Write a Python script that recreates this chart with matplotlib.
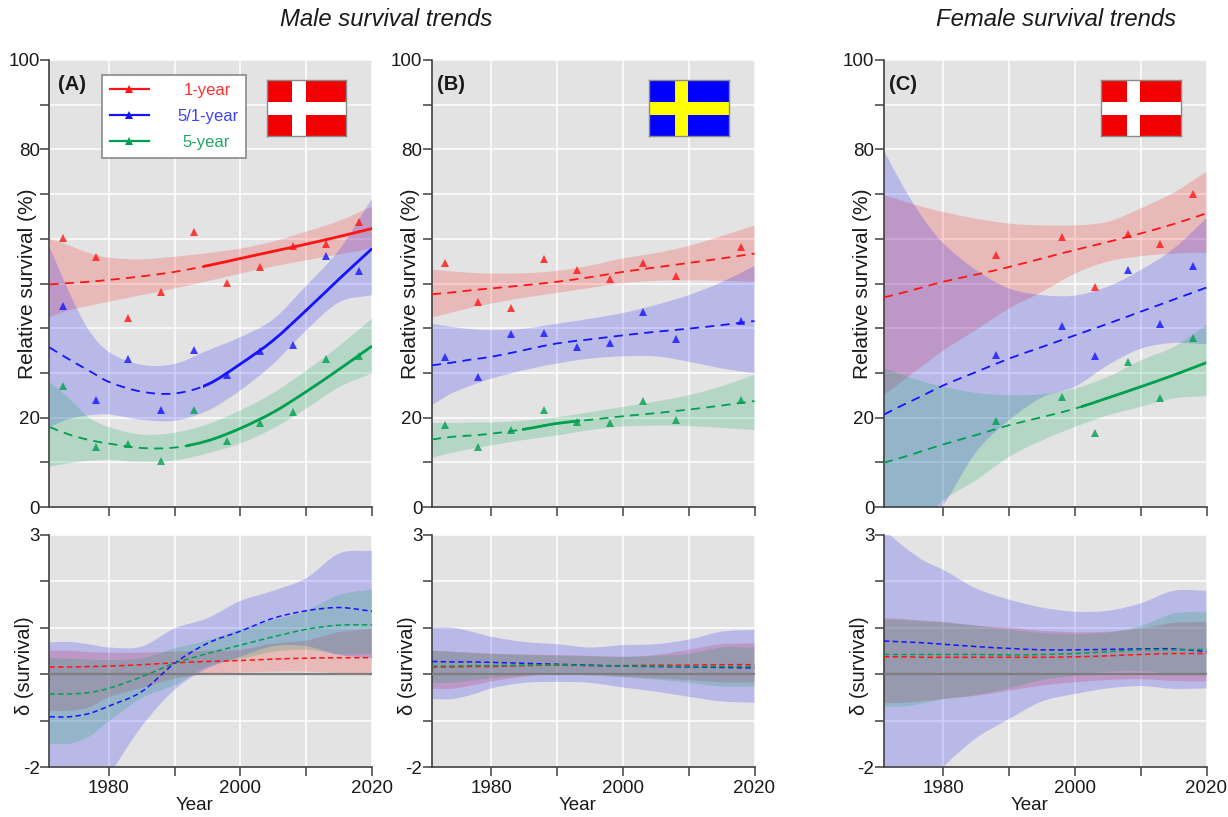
import matplotlib
matplotlib.use('Agg')
import matplotlib.pyplot as plt
from matplotlib.patches import Rectangle, PathPatch
from matplotlib.path import Path
from matplotlib.lines import Line2D

plt.rcParams['font.family'] = ['Liberation Sans', 'DejaVu Sans']

figW, figH = 1228, 817

# Years the fitted curves and bands were read at
fitYears = [1971, 1974, 1977, 1980, 1985, 1990, 1995, 2000, 2005, 2010, 2015, 2020]

# Observed points
yearsAB = [1973, 1978, 1983, 1988, 1993, 1998, 2003, 2008, 2013, 2018]
yearsB = [1973, 1978, 1983, 1988, 1993, 1998, 2003, 2008, 2018]
yearsC = [1988, 1998, 2003, 2008, 2013, 2018]

aRedPts = [60.1, 56, 42.2, 48, 61.6, 50.2, 53.6, 58.4, 58.8, 63.7]
aBluePts = [45, 23.9, 33, 21.8, 35.2, 29.6, 34.9, 36.3, 56.1, 52.8]
aGreenPts = [27, 13.4, 14, 10.4, 21.6, 14.8, 18.8, 21.2, 33, 33.7]
bRedPts = [54.6, 45.9, 44.5, 55.4, 53, 51, 54.6, 51.6, 58.2]
bBluePts = [33.6, 29.1, 38.8, 39, 35.9, 36.6, 43.7, 37.5, 41.6]
bGreenPts = [18.3, 13.4, 17.3, 21.6, 19, 18.7, 23.8, 19.4, 24]
cRedPts = [56.4, 60.3, 49.3, 61, 58.9, 70]
cBluePts = [34, 40.6, 33.7, 53, 41, 53.9]
cGreenPts = [19.2, 24.5, 16.6, 32.4, 24.3, 37.8]

# Panel A survival curves
aRedFit = [49.8, 50.1, 50.4, 50.8, 51.6, 52.6, 54, 55.6, 57.2, 58.8, 60.5, 62.3]
aRedUp = [60, 58.5, 56.8, 55.8, 55.4, 56, 56.8, 57.8, 59.4, 61.6, 64, 67.2]
aRedLo = [42.5, 44, 45, 45.9, 47.4, 48.9, 50.5, 52.2, 53.8, 55.2, 56.5, 57.8]
aBlueFit = [35.7, 33, 30.5, 28, 25.8, 25.4, 27.4, 32, 37.3, 44, 51, 57.8]
aBlueUp = [58.2, 48, 39.5, 34.7, 31.8, 32, 35, 38, 42, 49.5, 57.5, 69]
aBlueLo = [17.9, 19.7, 20.5, 20.7, 19.5, 19.3, 21.5, 26.1, 32, 39.5, 45.8, 47.4]
aGreenFit = [17.9, 16.2, 15, 14.2, 13.2, 13.3, 14.8, 17.6, 21.2, 25.8, 30.8, 36]
aGreenUp = [28, 24.3, 20, 17.9, 16.2, 16.6, 18.5, 21.6, 25.5, 30.5, 36, 42.2]
aGreenLo = [9, 9.8, 10.3, 10.5, 10.1, 10.4, 12, 14.2, 17.6, 22, 26.8, 29.9]

# Panel B survival curves
bRedFit = [47.6, 48, 48.5, 48.9, 49.6, 50.4, 51.4, 52.6, 53.6, 54.6, 55.6, 56.7]
bRedUp = [53.1, 52.7, 52.4, 52.2, 52.3, 52.8, 54, 55.6, 56.8, 58.4, 60.6, 63]
bRedLo = [42.4, 43.5, 44.6, 45.5, 46.8, 47.9, 49, 50.1, 50.6, 50.7, 50.6, 50.4]
bBlueFit = [31.7, 32.3, 33, 33.6, 35.1, 36.6, 37.5, 38.4, 39.2, 39.9, 40.7, 41.6]
bBlueUp = [41, 40.3, 39.8, 39.6, 39.9, 41, 42.1, 43.4, 45.2, 47.4, 50.3, 53.9]
bBlueLo = [22.8, 25.4, 27.2, 28.7, 30.6, 32.1, 33.2, 33.7, 33.7, 32.5, 31, 29.9]
bGreenFit = [15.1, 15.7, 16, 16.4, 17.4, 18.7, 19.5, 20.3, 21, 21.8, 22.7, 23.7]
bGreenUp = [18.8, 18.8, 18.9, 18.9, 19.3, 20.1, 21.2, 22.4, 23.6, 25, 27, 29.6]
bGreenLo = [11, 12.1, 13, 13.8, 15, 16, 17.2, 18, 18.2, 18.1, 17.7, 17.2]

# Panel C survival curves
cRedFit = [46.9, 48, 49.2, 50.4, 52, 53.7, 55.6, 57.5, 59.3, 61.2, 63.3, 65.7]
cRedUp = [69.8, 68.4, 67.1, 66, 64.5, 63.4, 63, 63, 63.8, 66.8, 70.3, 75]
cRedLo = [25, 28.4, 31.7, 35, 39.6, 44.4, 48.1, 52.2, 54.9, 56.1, 56.7, 56.9]
cBlueFit = [20.7, 22.9, 25, 27.2, 30.2, 33.2, 35.8, 38.4, 41, 43.7, 46.4, 49.1]
cBlueUp = [79.7, 71.5, 64.5, 59, 53, 48.9, 47.4, 47.3, 49.3, 53, 57.8, 64.6]
cBlueLo = [-20, -12, -4, 0.4, 12.3, 19.4, 24.5, 26.9, 31.7, 35.4, 36.7, 36.4]
cGreenFit = [9.9, 11.2, 12.6, 14, 16.1, 18.3, 20.1, 22, 24.4, 26.9, 29.5, 32.3]
cGreenUp = [31, 29.5, 28, 26.9, 25.5, 25, 25.2, 26.5, 29.1, 32.8, 35.8, 40.7]
cGreenLo = [-15, -9, -3, 1.5, 6, 11.2, 14.9, 17.9, 20.5, 22.4, 24.3, 24.8]

# Panel A delta curves
aRedD = [0.15, 0.15, 0.16, 0.17, 0.2, 0.24, 0.27, 0.29, 0.32, 0.34, 0.35, 0.35]
aRedDUp = [0.5, 0.5, 0.47, 0.46, 0.46, 0.48, 0.5, 0.52, 0.65, 0.72, 0.9, 0.97]
aRedDLo = [-0.79, -0.79, -0.72, -0.5, -0.3, -0.1, 0, 0.03, 0.05, 0.05, 0.02, 0]
aBlueD = [-0.92, -0.92, -0.85, -0.69, -0.38, 0.23, 0.66, 0.92, 1.2, 1.36, 1.43, 1.35]
aBlueDUp = [0.68, 0.69, 0.64, 0.57, 0.59, 0.98, 1.2, 1.57, 1.79, 2.06, 2.59, 2.65]
aBlueDLo = [-3.8, -3.4, -2.9, -2.2, -1.13, -0.34, 0.12, 0.37, 0.6, 0.6, 0.41, 0.35]
aGreenD = [-0.43, -0.43, -0.4, -0.31, -0.06, 0.23, 0.44, 0.62, 0.8, 0.96, 1.05, 1.06]
aGreenDUp = [0.34, 0.33, 0.31, 0.3, 0.34, 0.55, 0.72, 0.96, 1.16, 1.36, 1.7, 1.82]
aGreenDLo = [-1.5, -1.5, -1.35, -1.02, -0.52, -0.24, 0.16, 0.32, 0.48, 0.52, 0.43, 0.43]

# Panel B delta curves
bRedD = [0.15, 0.15, 0.16, 0.16, 0.18, 0.19, 0.18, 0.18, 0.19, 0.19, 0.2, 0.2]
bRedDUp = [0.5, 0.48, 0.46, 0.44, 0.42, 0.41, 0.39, 0.37, 0.41, 0.52, 0.64, 0.66]
bRedDLo = [-0.32, -0.32, -0.25, -0.16, -0.06, 0.01, 0, -0.06, -0.09, -0.13, -0.18, -0.18]
bBlueD = [0.27, 0.26, 0.26, 0.25, 0.23, 0.21, 0.19, 0.17, 0.16, 0.15, 0.14, 0.13]
bBlueDUp = [1, 1, 0.91, 0.8, 0.69, 0.64, 0.57, 0.62, 0.64, 0.74, 0.91, 0.95]
bBlueDLo = [-0.54, -0.54, -0.45, -0.31, -0.19, -0.17, -0.19, -0.29, -0.38, -0.49, -0.59, -0.62]
bGreenD = [0.17, 0.17, 0.18, 0.18, 0.19, 0.2, 0.18, 0.17, 0.17, 0.16, 0.16, 0.16]
bGreenDUp = [0.5, 0.48, 0.45, 0.43, 0.41, 0.39, 0.38, 0.37, 0.39, 0.43, 0.57, 0.57]
bGreenDLo = [-0.19, -0.19, -0.14, -0.09, -0.03, 0, -0.03, -0.07, -0.12, -0.19, -0.27, -0.27]

# Panel C delta curves
cRedD = [0.37, 0.37, 0.36, 0.36, 0.36, 0.36, 0.36, 0.37, 0.39, 0.42, 0.44, 0.44]
cRedDUp = [1.2, 1.18, 1.15, 1.12, 1.04, 1, 0.93, 0.9, 0.91, 0.98, 1.1, 1.12]
cRedDLo = [-0.62, -0.62, -0.58, -0.54, -0.47, -0.36, -0.25, -0.18, -0.13, -0.11, -0.15, -0.16]
cBlueD = [0.71, 0.69, 0.67, 0.64, 0.59, 0.55, 0.52, 0.52, 0.53, 0.54, 0.54, 0.48]
cBlueDUp = [3.1, 2.74, 2.44, 2.24, 1.84, 1.6, 1.43, 1.34, 1.36, 1.52, 1.79, 1.79]
cBlueDLo = [-3.5, -3, -2.5, -2, -1.38, -0.97, -0.59, -0.43, -0.31, -0.26, -0.32, -0.31]
cGreenD = [0.42, 0.42, 0.42, 0.42, 0.42, 0.41, 0.42, 0.44, 0.48, 0.52, 0.52, 0.53]
cGreenDUp = [1.18, 1.16, 1.13, 1.11, 1.04, 0.96, 0.88, 0.86, 0.89, 1.03, 1.3, 1.33]
cGreenDLo = [-0.7, -0.7, -0.63, -0.54, -0.45, -0.31, -0.13, -0.04, 0.05, 0.06, 0.01, 0]

seriesNames = ['1-year', '5/1-year', '5-year']
lineColors = ['#ff1414', '#1414ff', '#00a050']
textColors = ['#ff3030', '#4040ff', '#20a868']


def axesPx(left, top, right, bottom):
    return fig.add_axes([left / figW, 1 - bottom / figH, (right - left) / figW, (bottom - top) / figH])


def curveSegments(xs, ys):
    # bezier control points so the curve runs smoothly through the read values
    n = len(xs)
    slopes = []
    for i in range(n):
        a, b = max(i - 1, 0), min(i + 1, n - 1)
        slopes.append((ys[b] - ys[a]) / (xs[b] - xs[a]))
    verts, codes = [], []
    for i in range(n - 1):
        h = (xs[i + 1] - xs[i]) / 3.0
        verts += [(xs[i] + h, ys[i] + slopes[i] * h), (xs[i + 1] - h, ys[i + 1] - slopes[i + 1] * h), (xs[i + 1], ys[i + 1])]
        codes += [Path.CURVE4] * 3
    return verts, codes


def curvePath(xs, ys):
    verts, codes = curveSegments(xs, ys)
    return Path([(xs[0], ys[0])] + verts, [Path.MOVETO] + codes)


def addBand(ax, lo, up, color):
    upVerts, upCodes = curveSegments(fitYears, up)
    loVerts, loCodes = curveSegments(fitYears[::-1], lo[::-1])
    verts = [(fitYears[0], up[0])] + upVerts + [(fitYears[-1], lo[-1])] + loVerts + [(fitYears[0], up[0])]
    codes = [Path.MOVETO] + upCodes + [Path.LINETO] + loCodes + [Path.CLOSEPOLY]
    ax.add_patch(PathPatch(Path(verts, codes), facecolor=color, edgecolor='none', alpha=0.2, zorder=2))


def addCurve(ax, ys, color, lw, dashes=None):
    style = 'solid' if dashes is None else (0, dashes)
    curve = PathPatch(curvePath(fitYears, ys), fill=False, edgecolor=color, lw=lw, linestyle=style, zorder=3, capstyle='butt')
    ax.add_patch(curve)
    return curve


def styleAxes(ax):
    ax.set_facecolor('#e3e3e3')
    ax.set_xlim(1971, 2020)
    ax.set_xticks([1980, 1990, 2000, 2010, 2020])
    ax.grid(True, color='white', linewidth=1.1, zorder=1)
    ax.set_axisbelow(True)
    for side in ['top', 'right']:
        ax.spines[side].set_visible(False)
    for side in ['left', 'bottom']:
        ax.spines[side].set_color('#404040')
        ax.spines[side].set_linewidth(1.2)
    ax.tick_params(length=6.2, width=1.1, color='#404040', labelsize=13.5, labelcolor='#1a1a1a', pad=0.8)


def drawFlag(left, bgColor, crossColor):
    flag = axesPx(left + 217, 80, left + 296.5, 136)
    flag.set_xlim(0, 80)
    flag.set_ylim(0, 56)
    flag.set_xticks([])
    flag.set_yticks([])
    flag.set_facecolor(bgColor)
    flag.add_patch(Rectangle((26, 0), 13.5, 56, color=crossColor, lw=0))
    flag.add_patch(Rectangle((0, 21), 80, 13, color=crossColor, lw=0))
    for side in flag.spines.values():
        side.set_color('#8a8a8a')
        side.set_linewidth(1)


def drawSurvival(ax, fits, ups, los, pointYears, points, solid):
    for i in range(3):
        addBand(ax, los[i], ups[i], lineColors[i])
    for i in range(3):
        addCurve(ax, fits[i], lineColors[i], 1.3, (5, 3.5))
        if solid[i] is not None:
            curve = addCurve(ax, fits[i], lineColors[i], 2)
            curve.set_clip_path(Rectangle((solid[i][0], -10), solid[i][1] - solid[i][0], 120, transform=ax.transData))
        ax.plot(pointYears[i], points[i], linestyle='none', marker='^', ms=6, mew=0,
                color=lineColors[i], alpha=0.8, zorder=4)
    ax.set_ylim(0, 100)
    ax.set_yticks(range(0, 101, 10))
    ax.set_yticklabels(['0', '', '20', '', '', '', '', '', '80', '', '100'])
    ax.set_xticklabels([])
    ax.set_ylabel('Relative survival (%)', fontsize=15, color='#1a1a1a')
    ax.yaxis.set_label_coords(-12 / 322.5, 0.5)


def drawDelta(ax, fits, ups, los):
    for i in range(3):
        addBand(ax, los[i], ups[i], lineColors[i])
    ax.axhline(0, color='#7d7d7d', lw=1.6, zorder=3)
    for i in range(3):
        curve = addCurve(ax, fits[i], lineColors[i], 1.1, (3.5, 2.2))
        curve.set_zorder(4)
    ax.set_ylim(-2, 3)
    ax.set_yticks([-2, -1, 0, 1, 2, 3])
    ax.set_yticklabels(['-2', '', '', '', '', '3'])
    ax.set_xticklabels(['1980', '', '2000', '', '2020'])
    ax.tick_params(axis='x', pad=3)
    ax.set_ylabel('\u03b4 (survival)', fontsize=14.5, color='#1a1a1a')
    ax.yaxis.set_label_coords(-15 / 322.5, 0.435)
    ax.set_xlabel('Year', fontsize=13.5, color='#1a1a1a')
    ax.xaxis.set_label_coords(145.5 / 322.5, -30 / 232.5)


fig = plt.figure(figsize=(figW / 100, figH / 100), dpi=100)

panelLefts = [49.5, 432, 884]
panelLabels = ['(A)', '(B)', '(C)']
labelOffsets = [9, 5, 4.5]
flagBgs = ['#f00000', '#0000ff', '#f00000']
flagCrosses = ['white', '#ffff00', 'white']
pointYearsAll = [[yearsAB] * 3, [yearsB] * 3, [yearsC] * 3]
pointsAll = [[aRedPts, aBluePts, aGreenPts], [bRedPts, bBluePts, bGreenPts], [cRedPts, cBluePts, cGreenPts]]
fitsAll = [[aRedFit, aBlueFit, aGreenFit], [bRedFit, bBlueFit, bGreenFit], [cRedFit, cBlueFit, cGreenFit]]
upsAll = [[aRedUp, aBlueUp, aGreenUp], [bRedUp, bBlueUp, bGreenUp], [cRedUp, cBlueUp, cGreenUp]]
losAll = [[aRedLo, aBlueLo, aGreenLo], [bRedLo, bBlueLo, bGreenLo], [cRedLo, cBlueLo, cGreenLo]]
deltaAll = [[aRedD, aBlueD, aGreenD], [bRedD, bBlueD, bGreenD], [cRedD, cBlueD, cGreenD]]
deltaUpAll = [[aRedDUp, aBlueDUp, aGreenDUp], [bRedDUp, bBlueDUp, bGreenDUp], [cRedDUp, cBlueDUp, cGreenDUp]]
deltaLoAll = [[aRedDLo, aBlueDLo, aGreenDLo], [bRedDLo, bBlueDLo, bGreenDLo], [cRedDLo, cBlueDLo, cGreenDLo]]
# Stretches of each fit drawn solid (significant trend)
solidAll = [[(1994.3, 2020), (1994.3, 2020), (1991.7, 2020)],
            [None, None, (1984.7, 1993.5)],
            [None, None, (2001, 2020)]]

for p in range(3):
    left = panelLefts[p]
    ax = axesPx(left, 60, left + 322.5, 507)
    styleAxes(ax)
    drawSurvival(ax, fitsAll[p], upsAll[p], losAll[p], pointYearsAll[p], pointsAll[p], solidAll[p])
    ax.text(labelOffsets[p] / 322.5, 1 - 25 / 447, panelLabels[p], transform=ax.transAxes, fontsize=14.5,
            fontweight='bold', color='#1a1a1a', va='center', ha='left', zorder=6)

    axD = axesPx(left, 534.5, left + 322.5, 767)
    styleAxes(axD)
    drawDelta(axD, deltaAll[p], deltaUpAll[p], deltaLoAll[p])

    drawFlag(left, flagBgs[p], flagCrosses[p])

    if p == 0:
        handles = [Line2D([], [], color=lineColors[i], lw=1.6, marker='^', ms=6, mew=0) for i in range(3)]
        leg = ax.legend(handles, seriesNames, loc='upper left', bbox_to_anchor=(52.5 / 322.5, 1 - 15 / 447),
                        borderaxespad=0, fontsize=12, frameon=True, fancybox=False, framealpha=1,
                        edgecolor='#8a8a8a', handlelength=2.35, handletextpad=1.72, labelspacing=0.68,
                        borderpad=0.45)
        leg.get_frame().set_linewidth(1.2)
        leg.set_zorder(6)
        shifts = [6, 0, 5]
        for i, t in enumerate(leg.get_texts()):
            t.set_color(textColors[i])
            t.set_position((shifts[i], 0))

fig.text(386 / figW, 1 - 20 / figH, 'Male survival trends', fontsize=17.2, style='italic',
         ha='center', va='center', color='#1a1a1a')
fig.text(1056 / figW, 1 - 20 / figH, 'Female survival trends', fontsize=17.2, style='italic',
         ha='center', va='center', color='#1a1a1a')

plt.savefig('out.png', dpi=100)
